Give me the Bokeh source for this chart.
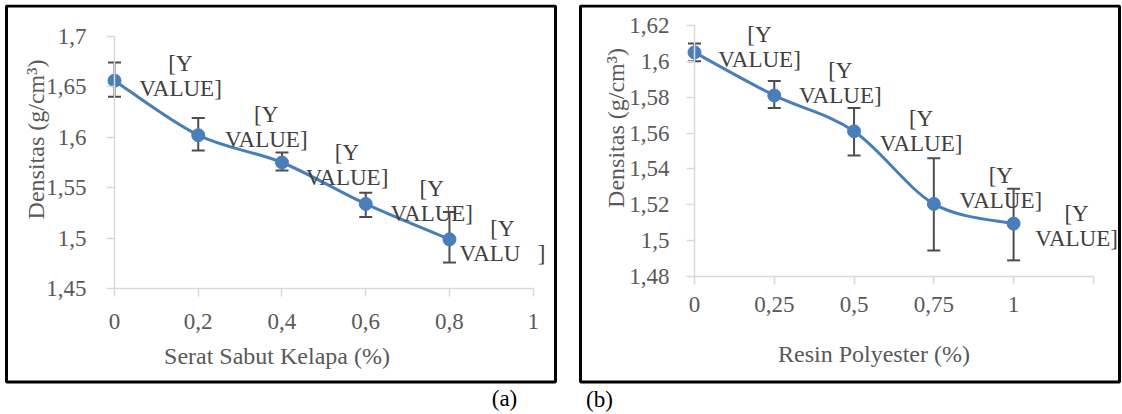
import numpy as np
from bokeh.plotting import figure
from bokeh.models import (LinearAxis, FixedTicker, Whisker, TeeHead,
                          ColumnDataSource, Label, Spacer, BoxAnnotation)
from bokeh.layouts import row
from bokeh.core.properties import value
from bokeh.embed import file_html
from bokeh.resources import INLINE

# ---------------- data: panel (a) ----------------
x_a = [0, 0.2, 0.4, 0.6, 0.8]
y_a = [1.656, 1.602, 1.575, 1.534, 1.499]
err_hi_a = [1.674, 1.619, 1.585, 1.545, 1.526]
err_lo_a = [1.640, 1.587, 1.567, 1.521, 1.476]
lbl_top_a = ["[Y", "[Y", "[Y", "[Y", "[Y"]
lbl_bot_a = ["VALUE]", "VALUE]", "VALUE]", "VALUE]", "VALU\u00a0\u00a0\u00a0]"]
xticks_a = [0, 0.2, 0.4, 0.6, 0.8, 1]
xtick_labels_a = ["0", "0,2", "0,4", "0,6", "0,8", "1"]
yticks_a = [1.45, 1.5, 1.55, 1.6, 1.65, 1.7]
ytick_labels_a = ["1,45", "1,5", "1,55", "1,6", "1,65", "1,7"]
xtitle_a = "Serat Sabut Kelapa (%)"
caption_a = "(a)"

# ---------------- data: panel (b) ----------------
x_b = [0, 0.25, 0.5, 0.75, 1]
y_b = [1.605, 1.581, 1.561, 1.5205, 1.5095]
err_hi_b = [1.610, 1.589, 1.574, 1.546, 1.529]
err_lo_b = [1.600, 1.574, 1.5475, 1.4945, 1.489]
lbl_top_b = ["[Y", "[Y", "[Y", "[Y", "[Y"]
lbl_bot_b = ["VALUE]", "VALUE]", "VALUE]", "VALUE]", "VALUE]"]
xticks_b = [0, 0.25, 0.5, 0.75, 1, 1.25]
xtick_labels_b = ["0", "0,25", "0,5", "0,75", "1", ""]
yticks_b = [1.48, 1.5, 1.52, 1.54, 1.56, 1.58, 1.6, 1.62]
ytick_labels_b = ["1,48", "1,5", "1,52", "1,54", "1,56", "1,58", "1,6", "1,62"]
xtitle_b = "Resin Polyester (%)"
caption_b = "(b)"

ytitle = "Densitas (g/cm\u00b3)"

# ---------------- styles ----------------
BLUE = "#4A7EBB"
ERR = "#4D4D4D"
GREY = "#595959"
AXC = "#D9D9D9"
FONT = "Liberation Serif"

# label pixel offsets (style, relative to each point)
lbl_dx_a = [66, 68, 65, 66, 53]
lbl_dy_a = [-17, -21, -10, -15, -11]
lbl_dx_b = [65, 66, 67, 67, 63]
lbl_dy_b = [-18, -25, -13, -28, -10]

OX, OY = 4, 4          # page offset of the row
GAP = 20


def smooth_segments(xs, ys):
    """Bezier control points (Catmull-Rom style) through the given points."""
    n = len(xs)
    out = {k: [] for k in ("x0", "y0", "x1", "y1", "cx0", "cy0", "cx1", "cy1")}
    for i in range(n - 1):
        im = max(i - 1, 0)
        ip = min(i + 2, n - 1)
        out["x0"].append(xs[i]); out["y0"].append(ys[i])
        out["x1"].append(xs[i + 1]); out["y1"].append(ys[i + 1])
        out["cx0"].append(xs[i] + (xs[i + 1] - xs[im]) / 6)
        out["cy0"].append(ys[i] + (ys[i + 1] - ys[im]) / 6)
        out["cx1"].append(xs[i + 1] - (xs[ip] - xs[i]) / 6)
        out["cy1"].append(ys[i + 1] - (ys[ip] - ys[i]) / 6)
    return out


def make_panel(ox, oy, W, H, box, x0px, sx, yref, yrefpx, sy,
               xs, ys, hi, lo, ltop, lbot, ldx, ldy,
               xticks, xlabels, yticks, ylabels,
               xtitle, xtitle_px, ytitle_px, caption, caption_px,
               ylab_standoff, xlab_standoff):
    # all *_px values are page pixel positions
    dx = lambda px: (px - x0px) / sx
    dy = lambda py: yref + (yrefpx - py) / sy

    p = figure(width=W, height=H,
               x_range=(dx(ox), dx(ox + W)), y_range=(dy(oy + H), dy(oy)),
               x_axis_type=None, y_axis_type=None,
               toolbar_location=None, output_backend="svg",
               min_border=0, title=None)
    p.outline_line_color = None
    p.background_fill_color = "white"
    p.border_fill_color = "white"

    bl, bt, br, bb = box
    p.add_layout(BoxAnnotation(left=dx(bl), right=dx(br), top=dy(bt),
                               bottom=dy(bb), fill_color=None, fill_alpha=0,
                               line_color="black", line_alpha=1.0,
                               line_width=3))

    common = dict(axis_line_color=AXC, axis_line_width=1.5,
                  major_tick_line_color=AXC, major_tick_line_width=1.5,
                  major_tick_out=8, major_tick_in=0,
                  minor_tick_out=0, minor_tick_in=0,
                  major_label_text_font=FONT,
                  major_label_text_font_size="23px",
                  major_label_text_color=GREY)

    yax = LinearAxis(fixed_location=0, bounds=(yticks[0], yticks[-1]),
                     ticker=FixedTicker(ticks=yticks),
                     major_label_overrides=dict(zip(yticks, ylabels)),
                     major_label_standoff=ylab_standoff, **common)
    p.add_layout(yax, "left")
    xax = LinearAxis(fixed_location=yticks[0], bounds=(xticks[0], xticks[-1]),
                     ticker=FixedTicker(ticks=xticks),
                     major_label_overrides=dict(zip(xticks, xlabels)),
                     major_label_standoff=xlab_standoff, **common)
    p.add_layout(xax, "below")

    src = ColumnDataSource(dict(x=xs, y=ys, hi=hi, lo=lo, t1=ltop, t2=lbot,
                                dx=ldx, dy1=ldy, dy2=[d + 25 for d in ldy]))

    wk = Whisker(base="x", upper="hi", lower="lo", source=src,
                 line_color=ERR, line_width=2, level="underlay",
                 upper_head=TeeHead(size=13, line_color=ERR, line_width=2),
                 lower_head=TeeHead(size=13, line_color=ERR, line_width=2))
    p.add_layout(wk)

    seg = ColumnDataSource(smooth_segments(xs, ys))
    p.bezier(x0="x0", y0="y0", x1="x1", y1="y1", cx0="cx0", cy0="cy0",
             cx1="cx1", cy1="cy1", source=seg, line_color=BLUE, line_width=3)
    p.scatter("x", "y", source=src, size=13, fill_color=BLUE, line_color=BLUE)

    for col, off in (("t1", "dy1"), ("t2", "dy2")):
        p.text("x", "y", text=col, source=src, x_offset="dx", y_offset=off,
               text_font=value(FONT), text_font_size="23px",
               text_color="#404040", text_align="center",
               text_baseline="middle")

    p.add_layout(Label(x=dx(xtitle_px[0]), y=dy(xtitle_px[1]), text=xtitle,
                       text_font=FONT, text_font_size="24px", text_color=GREY,
                       text_align="center", text_baseline="middle"))
    p.add_layout(Label(x=dx(ytitle_px[0]), y=dy(ytitle_px[1]), text=ytitle,
                       angle=np.pi / 2, text_font=FONT, text_font_size="24px",
                       text_color=GREY, text_align="center",
                       text_baseline="middle"))
    p.add_layout(Label(x=dx(caption_px[0]), y=dy(caption_px[1]), text=caption,
                       text_font=FONT, text_font_size="23px", text_color="black",
                       text_align="center", text_baseline="middle"))
    return p


WA = 553
WB = 544
HH = 409
pa = make_panel(OX, OY, WA, HH, (6, 5.5, 555, 381.5),
                114, 418.7, 1.45, 288.3, 1010.4,
                x_a, y_a, err_hi_a, err_lo_a, lbl_top_a, lbl_bot_a,
                lbl_dx_a, lbl_dy_a, xticks_a, xtick_labels_a,
                yticks_a, ytick_labels_a, xtitle_a, (276.5, 355), (35, 139),
                caption_a, (504, 398), 20, 17)

pb = make_panel(OX + WA + GAP, OY, WB, HH, (580, 5.5, 1119, 381.5),
                694, 319.1, 1.48, 276.0, 1792.9,
                x_b, y_b, err_hi_b, err_lo_b, lbl_top_b, lbl_bot_b,
                lbl_dx_b, lbl_dy_b, xticks_b, xtick_labels_b,
                yticks_b, ytick_labels_b, xtitle_b, (873.5, 353), (615, 127.5),
                caption_b, (599, 399), 17, 12)

layout = row(pa, Spacer(width=GAP), pb, margin=(OY, 0, 0, OX))

with open("out.html", "w") as f:
    f.write(file_html(layout, INLINE))
